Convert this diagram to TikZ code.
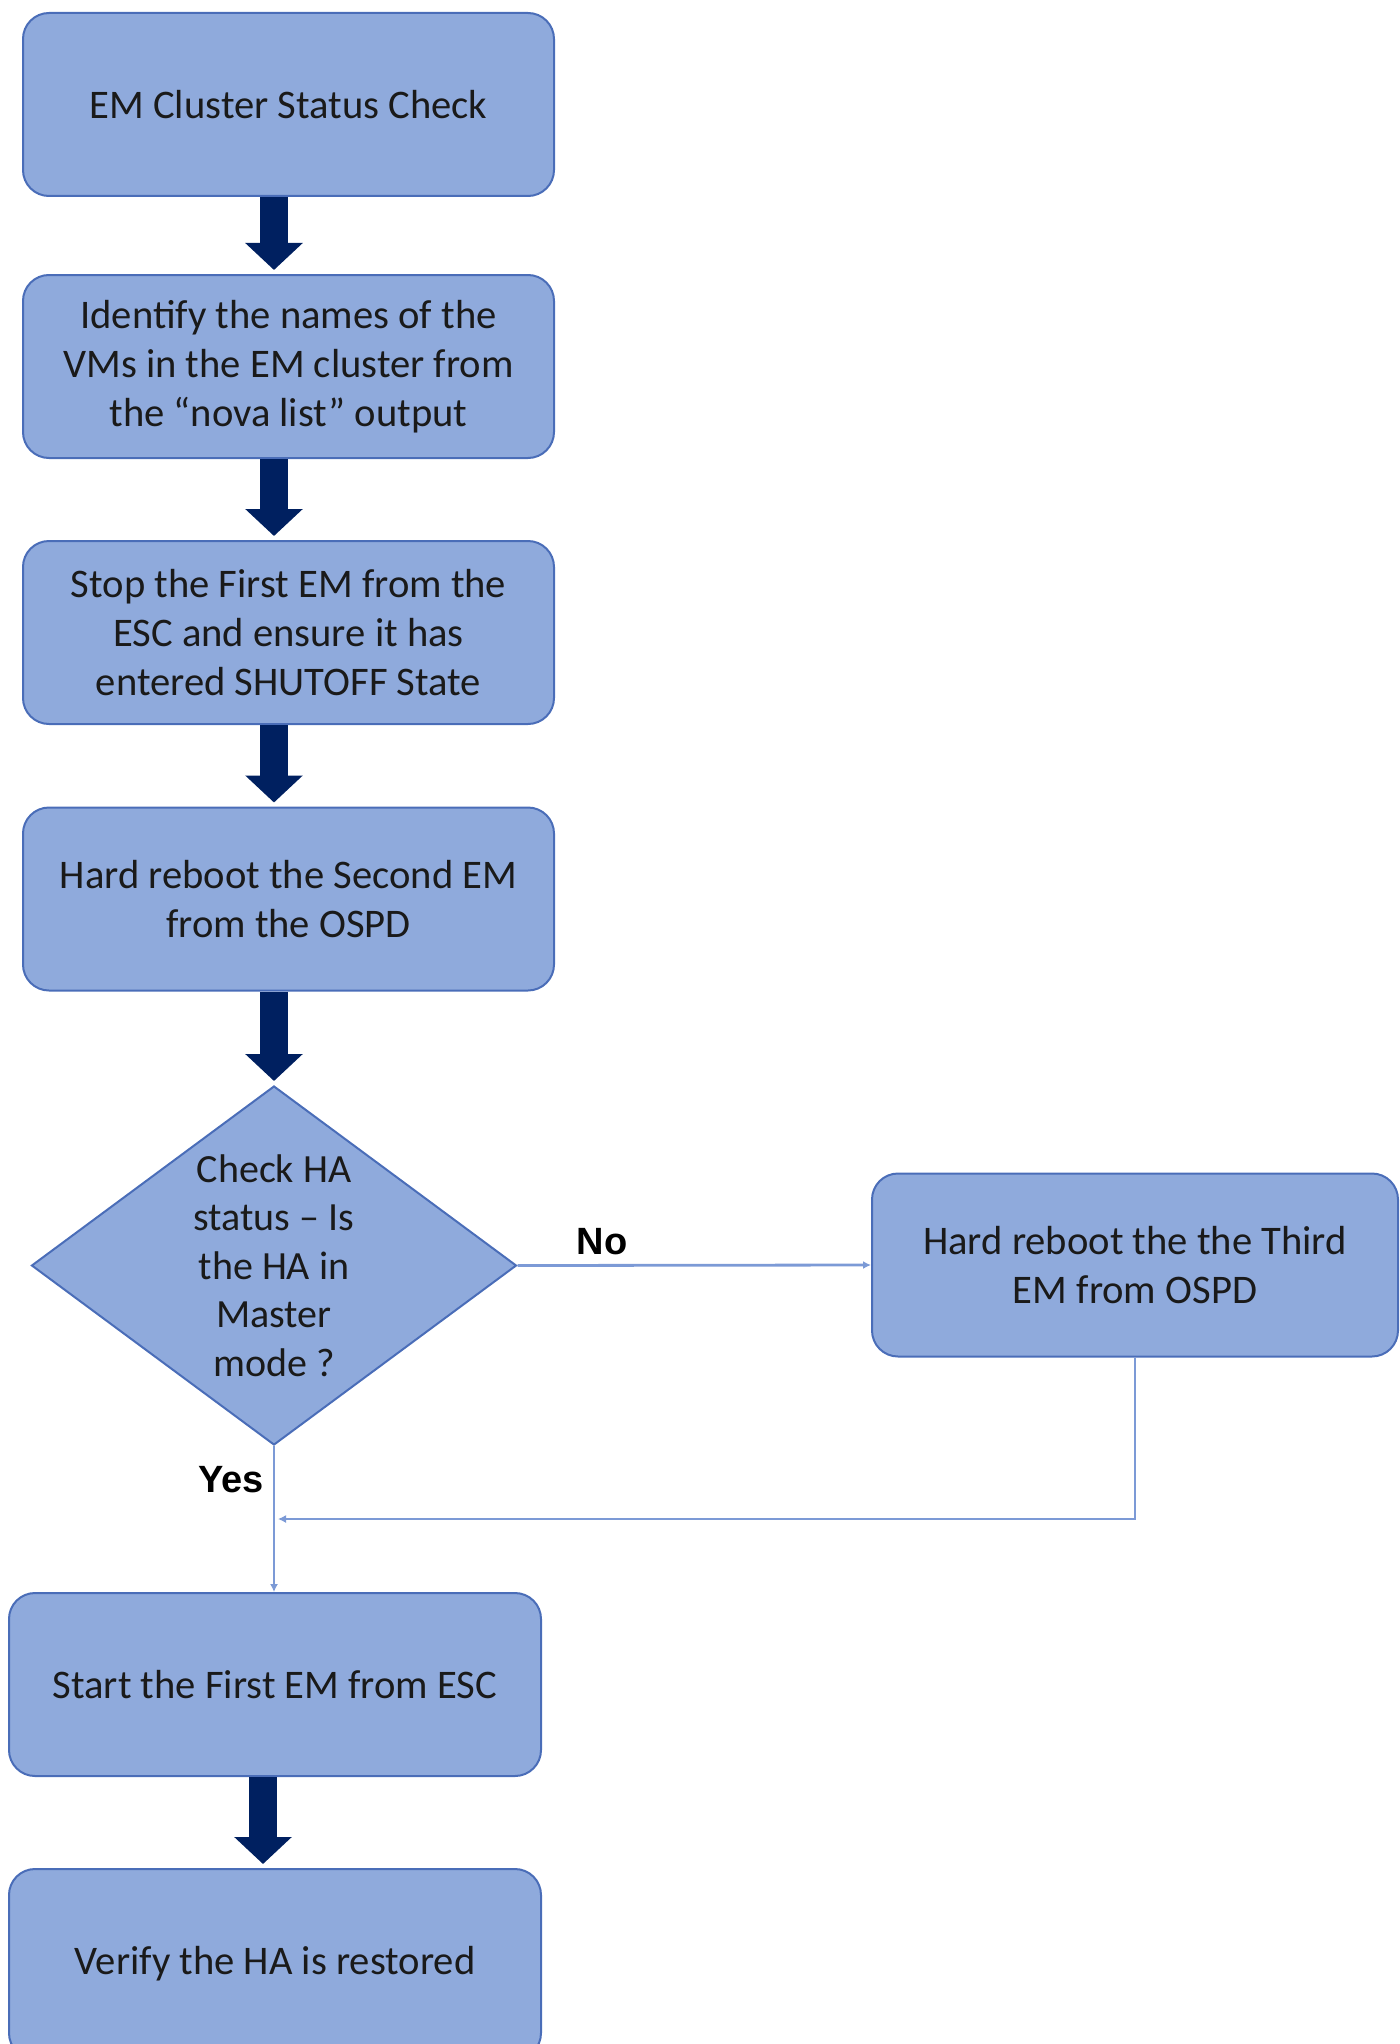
\documentclass[tikz,border=0pt]{standalone}
\usepackage{fontspec}
\setmainfont{Carlito}
\newfontfamily\labfont{Liberation Sans}
\usetikzlibrary{shapes.geometric,arrows.meta}
\definecolor{boxfill}{HTML}{8FAADC}
\definecolor{boxline}{HTML}{4A6DB8}
\definecolor{navy}{HTML}{002060}
\definecolor{connc}{HTML}{7C9AD6}
\definecolor{txtc}{HTML}{1A1A1A}
\tikzset{
  box/.style={draw=boxline, line width=1pt, fill=boxfill, rounded corners=13pt,
    minimum width=265.5pt, minimum height=91.5pt, align=center, text=txtc,
    font=\fontsize{20.3}{24.6}\selectfont, inner sep=0pt},
  decision/.style={diamond, draw=boxline, line width=1pt, fill=boxfill,
    minimum width=242.5pt, minimum height=179.5pt, inner sep=0pt},
  dtext/.style={align=center, text=txtc, font=\fontsize{20}{24.3}\selectfont, inner sep=0pt},
  bigarrow/.style={draw=navy, line width=14pt, shorten >=2pt,
    -{Triangle[length=13.5pt, width=28pt]}},
  conn/.style={draw=connc, line width=0.7pt},
  conntip/.style={-{Latex[length=4pt, width=4pt]}},
  lbl/.style={font=\labfont\bfseries\fontsize{19}{22}\selectfont, text=black, inner sep=0pt}
}
\begin{document}
\begin{tikzpicture}[x=0.5pt, y=-0.5pt]
\useasboundingbox (0,0) rectangle (1399,2044);
\node[box] (b1) at (288.5,104.5) {EM Cluster Status Check};
\node[box] (b2) at (288.5,366.5) {Identify the names of the\\VMs in the EM cluster from\\the “nova list” output};
\node[box] (b3) at (288.5,632.5) {Stop the First EM from the\\ESC and ensure it has\\entered SHUTOFF State};
\node[box] (b4) at (288.5,899) {Hard reboot the Second EM\\from the OSPD};
\node[decision] (dia) at (274,1265.5) {};
\node[dtext] (diat) at (dia.center) {Check HA\\status – Is\\the HA in\\Master\\mode ?};
\node[box, minimum width=263pt] (b7) at (1135,1265) {Hard reboot the the Third\\EM from OSPD};
\node[box, minimum width=266pt] (b5) at (275,1684.5) {Start the First EM from ESC};
\node[box, minimum width=266pt, minimum height=95pt] (b6) at (275,1964) {Verify the HA is restored};

\draw[bigarrow] (b1.south -| dia.north) -- (b2.north -| dia.north);
\draw[bigarrow] (b2.south -| dia.north) -- (b3.north -| dia.north);
\draw[bigarrow] (b3.south -| dia.north) -- (b4.north -| dia.north);
\draw[bigarrow] (b4.south -| dia.north) -- (dia.north);
\draw[bigarrow] ([xshift=-6pt]b5.south) -- ([xshift=-6pt]b6.north);

\draw[conn, line width=1.4pt, conntip] (dia.east) -- (b7.west);
\node[lbl] (no) at (602,1242) {No};

\coordinate (join) at (278,1519);
\draw[conn, conntip] (b7.south) |- (join);
\draw[conn, conntip] (dia.south) -- (dia.south |- b5.north);
\node[lbl] (yes) at (231,1480) {Yes};
\end{tikzpicture}
\end{document}
